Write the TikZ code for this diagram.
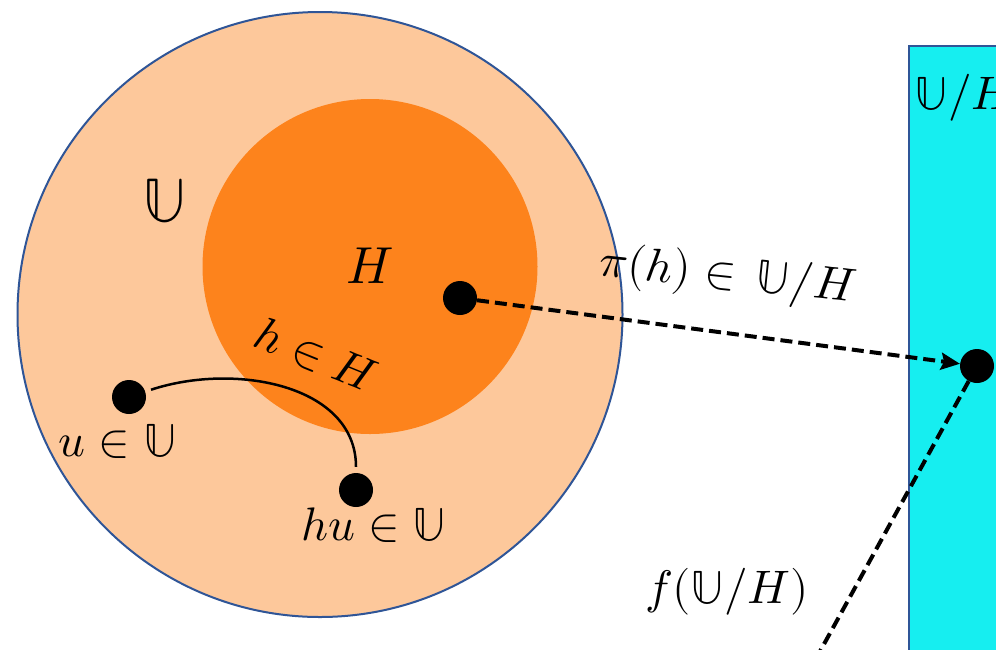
\documentclass[tikz,border=0pt]{standalone}
\usepackage{unicode-math}
\setmathfont{Latin Modern Math}
\usetikzlibrary{arrows.meta}
\definecolor{peach}{HTML}{FDC89B}
\definecolor{orng}{HTML}{FD831C}
\definecolor{cyanbox}{HTML}{16EEF0}
\definecolor{edgeblue}{HTML}{2F5597}
\tikzset{
  dot/.style={circle,fill=black,inner sep=0pt,minimum size=34pt},
  lbl/.style={inner sep=0pt,font=\fontsize{47}{52}\selectfont},
  dasharrow/.style={line width=4pt,dash pattern=on 12pt off 6pt}
}
\begin{document}
\begin{tikzpicture}[x=1pt,y=-1pt]
\useasboundingbox (0,0) rectangle (996,649);
\clip (0,0) rectangle (996,649);
\fill[white] (0,0) rectangle (996,649);
% big circle U
\draw[fill=peach,draw=edgeblue,line width=2pt] (320,314.5) circle[radius=302.5];
% subgroup H
\fill[orng] (370,266.5) circle[radius=167.5];
% quotient box
\draw[fill=cyanbox,draw=edgeblue,line width=2pt] (909,46) rectangle (1010,660);
% dots
\node[dot] (dH) at (460,298) {};
\node[dot] (dR) at (977,366) {};
\node[dot] (du) at (129,397) {};
\node[dot] (dhu) at (356,490) {};
\coordinate (fend) at (818,655);
% labels
\node[lbl,font=\fontsize{62}{68}\selectfont] (lU) at (165,201) {$\mathbb{U}$};
\node[lbl,font=\fontsize{52}{58}\selectfont] (lH) at (370,266) {$H$};
\node[lbl,rotate=-22] (lh) at (316,355) {$h\in H$};
\node[lbl] (lu) at (118,441) {$u\in\mathbb{U}$};
\node[lbl] (lhu) at (374,525) {$hu\in\mathbb{U}$};
\node[lbl,rotate=-6] (lpi) at (728,277) {$\pi(h)\in\,\mathbb{U}/H$};
\node[lbl,anchor=west] (lq) at (914,98) {$\mathbb{U}/H$};
\node[lbl] (lf) at (727,592) {$f(\mathbb{U}/H)$};
% connectors
\draw[line width=2.5pt,shorten <=6pt,shorten >=6pt] (du) .. controls (235,362) and (356,385) .. (dhu);
\draw[dasharrow,-{Stealth[length=19pt,width=17pt,inset=3pt]}] (dH) -- (dR);
\draw[dasharrow] (dR) -- (fend);
\end{tikzpicture}
\end{document}
